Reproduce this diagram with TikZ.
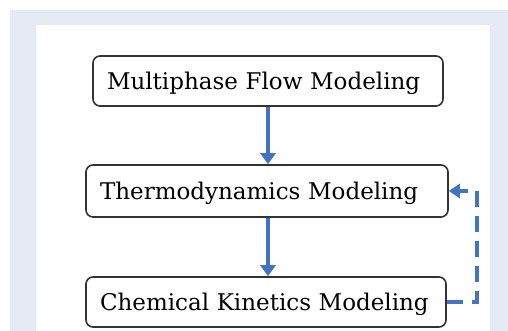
\documentclass[tikz,border=0pt]{standalone}
\usepackage{fontspec}
\setmainfont{DejaVu Serif}
\usetikzlibrary{arrows.meta}
\definecolor{bgblue}{HTML}{E6EAF5}
\definecolor{arrblue}{HTML}{4472C4}
\definecolor{boxline}{HTML}{333333}
\tikzset{
  procbox/.style={draw=boxline, line width=1.6pt, rounded corners=7pt, fill=white,
    inner xsep=14pt, inner ysep=0pt, align=left, text height=16.8pt, text depth=0pt,
    font=\fontsize{23}{26}\selectfont, text=black},
  flow/.style={draw=arrblue, line width=3.2pt, -{Triangle[length=11pt,width=15pt]}},
  feedback/.style={draw=arrblue, line width=3.2pt, dash pattern=on 16pt off 9pt, -{Triangle[length=11pt,width=14pt]}}
}
\begin{document}
\begin{tikzpicture}[x=1pt,y=1pt]
\useasboundingbox (0,0) rectangle (508,-331);
\fill[white] (0,0) rectangle (508,-331);
\fill[bgblue] (10,-10) rectangle (508,-331);
\fill[white] (36,-25) rectangle (490,-331);
\node[procbox, text width=322pt, minimum height=50pt] (mf) at (268,-81) {Multiphase Flow Modeling};
\node[procbox, text width=334pt, minimum height=52pt] (th) at (267,-191) {Thermodynamics Modeling};
\node[procbox, text width=332pt, minimum height=50pt] (ck) at (266,-302) {Chemical Kinetics Modeling};
\coordinate (c1) at (477,-302);
\coordinate (c2) at (477,-191);
\draw[flow] (mf.south -| 268,0) -- (th.north -| 268,0);
\draw[flow] (th.south -| 268,0) -- (ck.north -| 268,0);
\draw[feedback] (ck.east) -- (c1) -- (c2) -- (th.east);
\end{tikzpicture}
\end{document}
